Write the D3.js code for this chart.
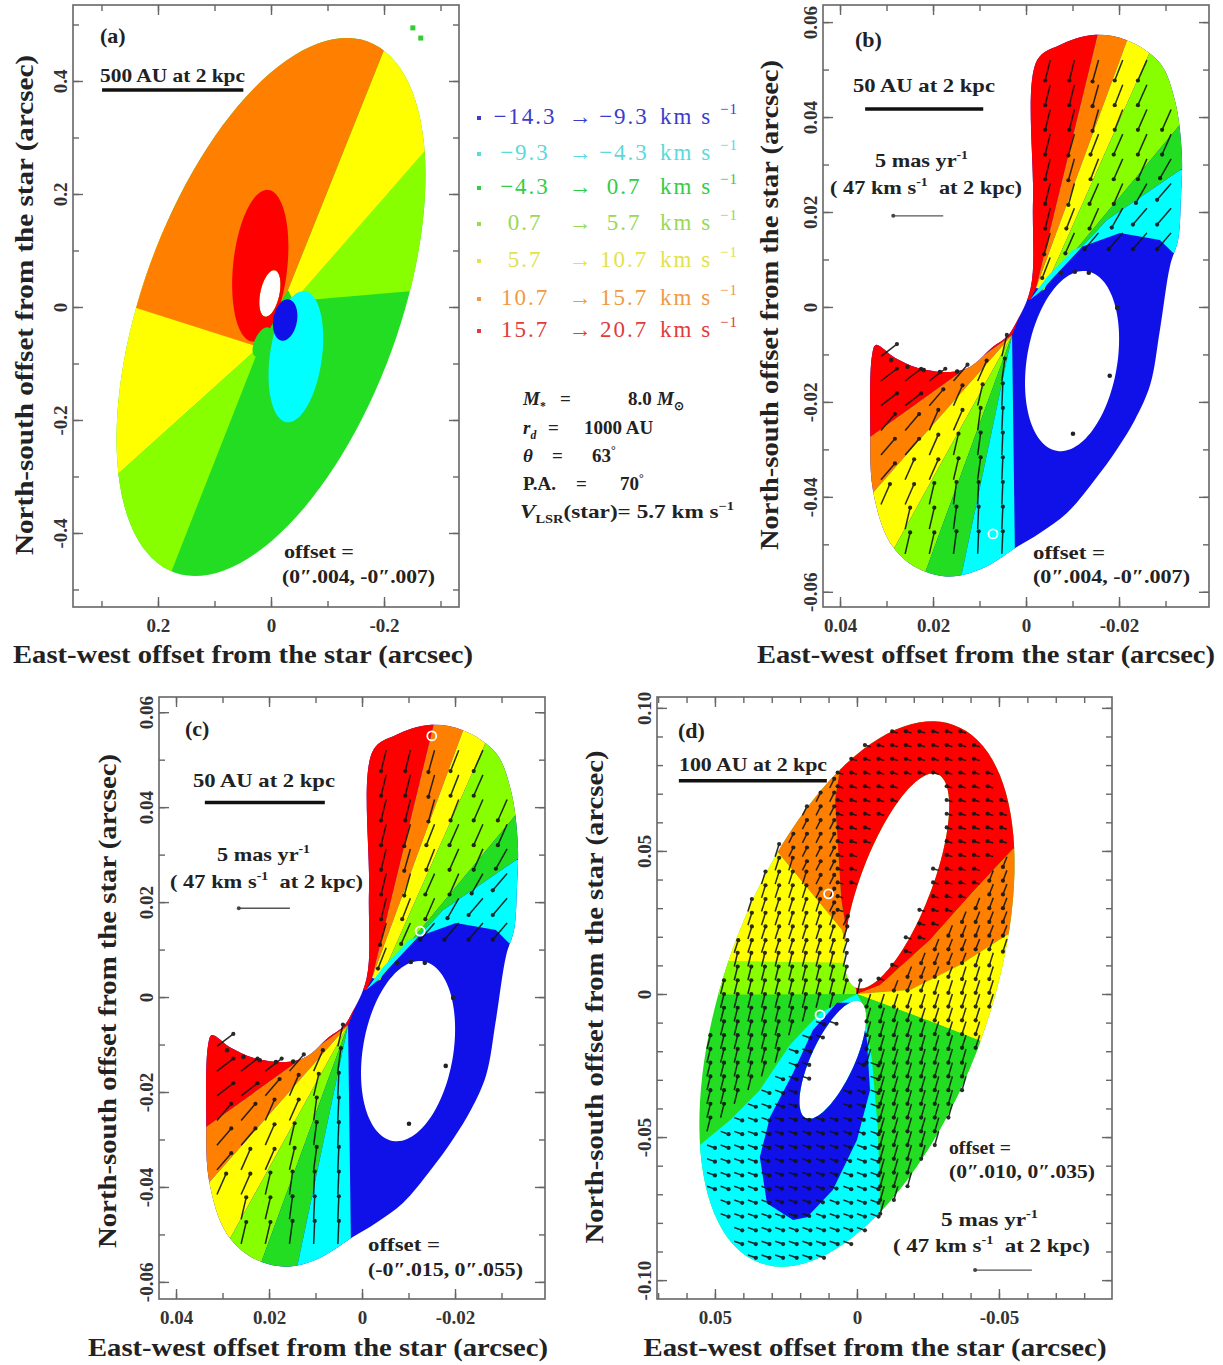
<!DOCTYPE html>
<html>
<head>
<meta charset="utf-8">
<script src="https://cdn.jsdelivr.net/npm/d3@7"></script>
<style>
  body { margin: 0; background: #fff; }
  svg text { font-family: "Liberation Serif", "Times New Roman", serif; white-space: pre; }
</style>
</head>
<body>
<svg id="fig" width="1223" height="1365"></svg>
<script>
// ---- velocity bins (km/s) and their colours ----
const velBins = [[-14.3, -9.3], [-9.3, -4.3], [-4.3, 0.7], [0.7, 5.7], [5.7, 10.7], [10.7, 15.7], [15.7, 20.7]];
const binColors = ["#1010e8", "#00ffff", "#22dd22", "#88ff00", "#ffff00", "#ff8000", "#ff0000"];
const binTextColors = ["#3b3bcc", "#5adada", "#33cc44", "#9ad855", "#e2e24a", "#f09a44", "#e03c3c"];

// ---- model parameters shown in the middle ----
const modelParams = { mass: 8.0, rd: 1000, theta: 63, pa: 70, vlsr: 5.7 };

// ---- panel (a): full disk ----
const xDomainA = [0.3504, -0.3327], yDomainA = [-0.531, 0.5345];
const xTicksA = [0.3, 0.2, 0.1, 0, -0.1, -0.2, -0.3];
const xLabelsA = [0.2, 0, -0.2];
const yTicksA = [-0.5, -0.4, -0.3, -0.2, -0.1, 0, 0.1, 0.2, 0.3, 0.4, 0.5];
const yLabelsA = [-0.4, -0.2, 0, 0.2, 0.4];
const diskA = [0, 0, 0.5, 0.227, -20];            // cx, cy, semi-major, semi-minor, PA (deg)
const holesA = [[0.002, 0.024, 0.042, 0.017, -12]];
const regionsA = [
  { bin: 4, poly: [[0.02, -0.07], [0.52, -0.52], [0.7, 0.0], [0.3, 0.3]] },
  { bin: 3, poly: [[0.02, -0.07], [0.33, -0.86], [0.52, -0.52]] },
  { bin: 3, poly: [[-0.04, 0.01], [-0.535, 0.577], [-0.556, 0.055]] },
  { bin: 4, poly: [[-0.03, 0.03], [-0.384, 0.915], [-0.535, 0.577], [-0.04, 0.01]] },
  { bin: 5, poly: [[0.03, -0.068], [0.244, 0.0], [0.6, 0.12], [0.6, 0.9], [-0.384, 0.915], [-0.03, 0.03]] },
  { bin: 6, ell: [0.019, 0.073, 0.135, 0.048, -6] },
  { bin: 1, ell: [-0.044, -0.088, 0.117, 0.046, -8] },
  { bin: 0, ell: [-0.025, -0.023, 0.037, 0.021, -10] },
  { bin: 2, ell: [0.016, -0.062, 0.028, 0.013, -25] }
];
const marksA = [[-0.251, 0.494], [-0.265, 0.476]];

// ---- panels (b) and (c): same model, different offsets ----
const xDomainB = [0.04366, -0.03935], yDomainB = [-0.0632, 0.0636];
const xDomainC = [0.04366, -0.03935], yDomainC = [-0.0636, 0.0632];
const xTicksBC = [0.04, 0.03, 0.02, 0.01, 0, -0.01, -0.02, -0.03];
const xLabelsBC = [0.04, 0.02, 0, -0.02];
const yTicksBC = [-0.06, -0.05, -0.04, -0.03, -0.02, -0.01, 0, 0.01, 0.02, 0.03, 0.04, 0.05, 0.06];
const yLabelsBC = [-0.06, -0.04, -0.02, 0, 0.02, 0.04, 0.06];
const outlineBC = [[-0.001, 0.004], [-0.0015, 0.0225], [-0.0024, 0.052], [-0.0073, 0.0552], [-0.0144, 0.0573],
  [-0.0217, 0.0562], [-0.0288, 0.0514], [-0.032, 0.0436], [-0.0335, 0.0324], [-0.0333, 0.0225], [-0.0327, 0.0141],
  [-0.031, 0.0088], [-0.0288, -0.0048], [-0.0267, -0.0164], [-0.0234, -0.0238], [-0.0196, -0.0299], [-0.0148, -0.0364],
  [-0.0088, -0.0434], [-0.003, -0.0476], [0.0019, -0.0505], [0.0092, -0.055], [0.0163, -0.0568], [0.0234, -0.055],
  [0.0292, -0.0497], [0.0329, -0.0387], [0.0335, -0.0253], [0.0331, -0.0101], [0.0323, -0.008], [0.0282, -0.0107],
  [0.0234, -0.0128], [0.0163, -0.0137], [0.012, -0.0126], [0.0071, -0.0084], [0.0041, -0.0063], [0.0024, -0.0038]];
const holesBC = [[-0.0099, -0.0114, 0.0192, 0.0097, -10]];
// bin, polygon, model proper motion (mas/yr: east, north)
const regionsBC = [
  { bin: 6, poly: [[0.003, -0.0059], [0.0458, -0.036], [0.0486, 0.0015], [-0.0009, 0.0036]], v: [-1.6, 1.2] },
  { bin: 5, poly: [[0.003, -0.0059], [0.0449, -0.0524], [0.0458, -0.036]], v: [-1.4, 1.6] },
  { bin: 4, poly: [[0.003, -0.0059], [0.0376, -0.0672], [0.0449, -0.0524]], v: [-0.9, 2.0] },
  { bin: 3, poly: [[0.003, -0.0059], [0.0269, -0.0699], [0.0376, -0.0672]], v: [-0.5, 2.1] },
  { bin: 2, poly: [[0.003, -0.0059], [0.0168, -0.0701], [0.0269, -0.0699]], v: [-0.3, 2.2] },
  { bin: 1, poly: [[0.003, -0.0059], [0.0022, -0.0659], [0.0168, -0.0701]], v: [-0.1, 2.2] },
  { bin: 6, poly: [[-0.0009, 0.0015], [-0.00215, 0.004], [-0.0172, 0.0646], [0.0056, 0.0646], [0.0056, 0.0015]], v: [0.5, -2.0] },
  { bin: 5, poly: [[-0.00215, 0.004], [-0.0172, 0.0646], [-0.0249, 0.0646]], v: [0.6, -2.1] },
  { bin: 4, poly: [[-0.00215, 0.004], [-0.0249, 0.0646], [-0.0316, 0.0646], [-0.0039, 0.0036]], v: [0.8, -2.0] },
  { bin: 3, poly: [[-0.0039, 0.0036], [-0.0316, 0.0646], [-0.0482, 0.0646], [-0.0482, 0.0562], [-0.0034, 0.0034]], v: [0.9, -2.0] },
  { bin: 2, poly: [[-0.0034, 0.0034], [-0.0482, 0.0562], [-0.0482, 0.0394], [-0.0331, 0.0288], [-0.0174, 0.0183], [-0.003, 0.0032]], v: [1.1, -1.9] },
  { bin: 1, poly: [[-0.003, 0.0032], [-0.0174, 0.0183], [-0.0331, 0.0288], [-0.0482, 0.0331], [-0.0482, 0.0095], [-0.0374, 0.0095],
      [-0.0316, 0.0114], [-0.0288, 0.0141], [-0.0202, 0.0156], [-0.0101, 0.012], [-0.0045, 0.0063], [-0.0009, 0.0015]], v: [1.4, -1.6] }
];
// observed spots along the cavity edges
const dotsBC = [[0.029, -0.0112], [0.0255, -0.0126], [0.022, -0.0133], [0.0185, -0.0137], [0.0148, -0.0136],
  [-0.0075, 0.0072], [-0.0105, 0.0074], [-0.0135, 0.0072], [-0.0196, -0.0002], [-0.018, -0.0145], [-0.0101, -0.0267]];
const spotsB = [[0.0071, -0.0478]];
const spotsC = [[-0.015, 0.055], [-0.0125, 0.0139]];

// ---- panel (d): ring ----
const xDomainD = [0.0704, -0.0898], yDomainD = [-0.1066, 0.1038];
const xTicksD = [0.07, 0.06, 0.05, 0.04, 0.03, 0.02, 0.01, 0, -0.01, -0.02, -0.03, -0.04, -0.05, -0.06, -0.07, -0.08];
const xLabelsD = [0.05, 0, -0.05];
const yTicksD = [-0.1, -0.09, -0.08, -0.07, -0.06, -0.05, -0.04, -0.03, -0.02, -0.01, 0, 0.01, 0.02, 0.03, 0.04, 0.05, 0.06, 0.07, 0.08, 0.09, 0.1];
const yLabelsD = [-0.1, -0.05, 0, 0.05, 0.1];
const diskD = [0, 0, 0.1, 0.0465, -20];
const holesD = [[-0.0140, 0.0395, 0.040, 0.0125, -21], [0.0085, -0.023, 0.0225, 0.0076, -25]];
const regionsD = [
  { bin: 3, poly: [[0, 0], [0.0025, 0.0108], [0.0729, 0.0119], [0.0729, -0.0003]], v: [-0.3, 1.2] },
  { bin: 4, poly: [[0, 0], [0.0025, 0.0108], [0.0729, 0.0119], [0.0729, 0.0678], [0.0342, 0.0573], [0.0052, 0.0224]], v: [-0.35, 1.1] },
  { bin: 5, poly: [[0, 0], [0.0052, 0.0224], [0.0342, 0.0573], [0.0729, 0.0678], [0.0729, 0.11], [0.006, 0.11], [0.0059, 0.079],
      [0.0077, 0.0678], [0.0055, 0.0329]], v: [-0.4, 0.8] },
  { bin: 6, poly: [[0, 0], [0.0055, 0.0329], [0.0077, 0.0678], [0.0059, 0.079], [0.006, 0.11], [-0.1, 0.11], [-0.1, 0.075],
      [-0.0856, 0.0748], [-0.0546, 0.0503], [-0.0415, 0.0364], [-0.0257, 0.0189], [-0.0081, 0.0031]], v: [0.5, 0.15] },
  { bin: 5, poly: [[0, 0], [-0.0081, 0.0031], [-0.0257, 0.0189], [-0.0415, 0.0364], [-0.0546, 0.0503], [-0.0856, 0.0748],
      [-0.0856, 0.0329], [-0.0528, 0.0206], [-0.0363, 0.0101], [-0.0187, 0.0014]], v: [0.35, -0.9] },
  { bin: 4, poly: [[0, 0], [-0.0187, 0.0014], [-0.0363, 0.0101], [-0.0528, 0.0206], [-0.0856, 0.0329], [-0.0856, -0.0336],
      [-0.0426, -0.0161], [-0.0292, -0.0108], [-0.0151, -0.0056]], v: [0.35, -1.1] },
  { bin: 2, poly: [[0, 0], [-0.0151, -0.0056], [-0.0292, -0.0108], [-0.0426, -0.0161], [-0.0856, -0.0336], [-0.0856, -0.11],
      [-0.0099, -0.11], [-0.0081, -0.072], [-0.0074, -0.0476], [-0.0053, -0.0231], [-0.0021, -0.0038]], v: [0.35, -1.2] },
  { bin: 1, poly: [[0, 0], [-0.0021, -0.0038], [-0.0053, -0.0231], [-0.0074, -0.0476], [-0.0081, -0.072], [-0.0099, -0.11],
      [0.08, -0.11], [0.0764, -0.058], [0.0553, -0.0528], [0.0447, -0.0441], [0.0342, -0.0336], [0.0236, -0.0178], [0.013, -0.0066]], v: [-0.7, -0.25] },
  { bin: 0, poly: [[-0.0011, -0.0031], [-0.0035, -0.0161], [-0.0046, -0.0336], [0, -0.051], [0.0085, -0.0685], [0.0176, -0.078],
      [0.0225, -0.079], [0.0317, -0.0731], [0.0342, -0.057], [0.0306, -0.043], [0.0225, -0.0276], [0.0155, -0.0126], [0.007, -0.0031]], v: [-0.6, -0.2] }
];
const spotsD = [[0.010, 0.035], [0.013, -0.0073]];

// ---- helpers ----
const svg = d3.select("#fig");
const serif = '"Liberation Serif", "Times New Roman", serif';

function ellipsePts([cx, cy, a, b, pa], n = 120) {
  const t = pa * Math.PI / 180;
  const u = [Math.sin(t), Math.cos(t)], v = [Math.cos(t), -Math.sin(t)];
  return d3.range(n).map(i => {
    const s = 2 * Math.PI * i / n;
    return [cx + a * Math.cos(s) * u[0] + b * Math.sin(s) * v[0],
            cy + a * Math.cos(s) * u[1] + b * Math.sin(s) * v[1]];
  });
}

// text with sub/superscripts and italic pieces
function rich(parent, x, y, parts, opt) {
  const t = parent.append("text").attr("x", x).attr("y", y)
    .attr("font-size", opt.size).attr("font-weight", opt.weight || "bold")
    .attr("fill", opt.fill || "#222");
  if (opt.anchor) t.attr("text-anchor", opt.anchor);
  if (opt.len) t.attr("textLength", opt.len).attr("lengthAdjust", "spacingAndGlyphs");
  if (opt.spacing) t.attr("letter-spacing", opt.spacing);
  let shift = 0;
  parts.forEach(p => {
    const q = typeof p === "string" ? { s: p } : p;
    const target = q.sup ? -0.42 : q.sub ? 0.28 : 0;
    const ts = t.append("tspan").text(q.s);
    if (q.x != null) ts.attr("x", q.x);
    if (target !== shift) ts.attr("dy", ((target - shift) * opt.size).toFixed(1));
    if (q.sup || q.sub) ts.attr("font-size", opt.size * 0.62);
    if (q.it) ts.attr("font-style", "italic");
    shift = target;
  });
  return t;
}

function drawPanel(p) {
  const [l, t, r, b] = p.frame;
  const W = r - l, H = b - t;
  const g = svg.append("g").attr("transform", `translate(${l},${t})`);
  const x = d3.scaleLinear().domain(p.xDomain).range([0, W]);
  const y = d3.scaleLinear().domain(p.yDomain).range([H, 0]);
  const px = d => [x(d[0]), y(d[1])];
  const closed = d3.line().curve(d3.curveLinearClosed);
  const smooth = d3.line().curve(d3.curveCatmullRomClosed.alpha(0.5));

  const outerPts = p.outer.ellipse ? ellipsePts(p.outer.ellipse) : p.outer.poly;
  const holePts = p.holes.map(h => ellipsePts(h));
  const domainD = (p.outer.ellipse ? closed : smooth)(outerPts.map(px)) +
    holePts.map(h => closed(h.map(px))).join("");

  const clipId = "clip-" + p.name;
  g.append("clipPath").attr("id", clipId)
    .append("path").attr("d", domainD).attr("clip-rule", "evenodd");

  // velocity field
  g.append("path").attr("d", domainD).attr("fill", binColors[p.base]).attr("fill-rule", "evenodd");
  const field = g.append("g").attr("clip-path", `url(#${clipId})`);
  const regionPts = p.regions.map(rg => rg.ell ? ellipsePts(rg.ell) : rg.poly);
  field.selectAll("path.region").data(p.regions).join("path")
    .attr("class", "region")
    .attr("d", (rg, i) => closed(regionPts[i].map(px)))
    .attr("fill", rg => binColors[rg.bin]);

  // model proper-motion vectors on a regular sampling grid
  if (p.arrowStep) {
    const xs = d3.extent(p.xDomain), ys = d3.extent(p.yDomain), s = p.arrowStep;
    const grid = [];
    d3.range(Math.ceil(ys[0] / s) * s, ys[1], s).forEach(gy =>
      d3.range(Math.ceil(xs[0] / s) * s, xs[1], s).forEach(gx => grid.push([gx, gy])));
    const vecs = [];
    grid.forEach(pt => {
      if (!d3.polygonContains(outerPts, pt)) return;
      if (holePts.some(h => d3.polygonContains(h, pt))) return;
      let v = p.baseV;
      for (let i = p.regions.length - 1; i >= 0; i--) {
        if (d3.polygonContains(regionPts[i], pt)) { v = p.regions[i].v; break; }
      }
      if (v) vecs.push({ p: pt, h: [pt[0] + v[0] * p.arrowScale, pt[1] + v[1] * p.arrowScale] });
    });
    const ag = g.append("g").attr("stroke", "#141414").attr("stroke-width", 1.5).attr("opacity", 0.9);
    ag.selectAll("line").data(vecs).join("line")
      .attr("x1", d => x(d.p[0])).attr("y1", d => y(d.p[1]))
      .attr("x2", d => x(d.h[0])).attr("y2", d => y(d.h[1]));
    ag.selectAll("circle").data(vecs).join("circle")
      .attr("cx", d => x(d.h[0])).attr("cy", d => y(d.h[1])).attr("r", 2.1).attr("fill", "#141414").attr("stroke", "none");
  }

  // spots along cavity edges, marker circles and marks
  (p.dots || []).forEach(dt => g.append("circle").attr("cx", x(dt[0])).attr("cy", y(dt[1])).attr("r", 2.3)
    .attr("fill", "#222"));
  (p.spots || []).forEach(sp => g.append("circle").attr("cx", x(sp[0])).attr("cy", y(sp[1])).attr("r", 4.5)
    .attr("fill", "none").attr("stroke", "#fff").attr("stroke-width", 1.8));
  (p.marks || []).forEach(mk => g.append("rect").attr("x", x(mk[0]) - 2.5).attr("y", y(mk[1]) - 2.5)
    .attr("width", 5).attr("height", 5).attr("fill", "#33cc33"));

  // frame + ticks
  g.append("rect").attr("width", W).attr("height", H).attr("fill", "none").attr("stroke", "#666").attr("stroke-width", 1.6);
  const fmt = d => d === 0 ? "0" : d3.format(p.fmt)(d).replace("\u2212", "-");
  const styleAxis = sel => {
    sel.select(".domain").remove();
    sel.selectAll(".tick line").attr("stroke", "#666").attr("stroke-width", 1.4);
    sel.attr("font-family", serif).attr("font-size", 19).attr("font-weight", "bold");
    sel.selectAll("text").attr("fill", "#333");
  };
  const axes = [
    [d3.axisBottom(x), `translate(0,${H})`, p.xTicks, p.xLabels, true, false],
    [d3.axisTop(x), null, p.xTicks, p.xLabels, false, false],
    [d3.axisLeft(y), null, p.yTicks, p.yLabels, true, true],
    [d3.axisRight(y), `translate(${W},0)`, p.yTicks, p.yLabels, false, false]
  ];
  axes.forEach(([ax, tr, minor, major, labelled, vertical]) => {
    styleAxis(g.append("g").attr("transform", tr).call(ax.tickValues(minor).tickSize(-6).tickFormat("")));
    const M = g.append("g").attr("transform", tr)
      .call(ax.tickValues(major).tickSize(-10).tickPadding(12).tickFormat(labelled ? fmt : ""));
    styleAxis(M);
    if (vertical) {
      M.selectAll(".tick text").attr("x", null).attr("dy", null).attr("text-anchor", "middle")
        .attr("transform", "translate(-6,0) rotate(-90)");
    }
  });

  // axis titles
  rich(svg, p.xTitle[0], p.xTitle[1], ["East-west offset from the star (arcsec)"],
    { size: 25, anchor: "middle", len: p.xTitle[2] });
  svg.append("text").attr("transform", `translate(${p.yTitle[0]},${p.yTitle[1]}) rotate(-90)`)
    .attr("text-anchor", "middle").attr("font-size", 25).attr("font-weight", "bold").attr("fill", "#222")
    .attr("textLength", p.yTitle[2]).attr("lengthAdjust", "spacingAndGlyphs")
    .text("North-south offset from the star (arcsec)");

  // scale bar
  const sb = p.scaleBar;
  g.append("line").attr("x1", x(sb[0])).attr("x2", x(sb[1])).attr("y1", y(sb[2])).attr("y2", y(sb[2]))
    .attr("stroke", "#111").attr("stroke-width", 3.5);

  // reference proper-motion arrow (5 mas/yr to the east)
  if (p.refArrow) {
    const a0 = p.refArrow, a1 = [a0[0] + 5 * p.arrowScale, a0[1]];
    g.append("line").attr("x1", x(a0[0])).attr("y1", y(a0[1])).attr("x2", x(a1[0])).attr("y2", y(a1[1]))
      .attr("stroke", "#555").attr("stroke-width", 1.3);
    g.append("circle").attr("cx", x(a1[0])).attr("cy", y(a1[1])).attr("r", 2).attr("fill", "#444");
  }

  // annotations
  p.texts.forEach(tx => rich(svg, tx.x, tx.y, tx.parts, { size: tx.size || 19, len: tx.len }));
}

const masParts = ["5 mas yr", { s: "-1", sup: true }];
const kmsParts = ["( 47 km s", { s: "-1", sup: true }, "  at 2 kpc)"];

const panels = [
  { name: "a", frame: [73, 5, 459, 607], xDomain: xDomainA, yDomain: yDomainA, xTicks: xTicksA, xLabels: xLabelsA,
    yTicks: yTicksA, yLabels: yLabelsA, fmt: ".1f", outer: { ellipse: diskA }, holes: holesA, base: 2, regions: regionsA,
    marks: marksA, scaleBar: [0.299, 0.049, 0.384],
    xTitle: [243, 663, 460], yTitle: [33, 305, 500],
    texts: [
      { x: 100, y: 43, parts: ["(a)"], size: 22 },
      { x: 100, y: 82, parts: ["500 AU at 2 kpc"], len: 145 },
      { x: 284, y: 558, parts: ["offset ="], len: 70 },
      { x: 282, y: 583, parts: ["(0\u2033.004, -0\u2033.007)"], len: 153 }
    ] },
  { name: "b", frame: [823, 5, 1209, 607], xDomain: xDomainB, yDomain: yDomainB, xTicks: xTicksBC, xLabels: xLabelsBC,
    yTicks: yTicksBC, yLabels: yLabelsBC, fmt: ".2f", outer: { poly: outlineBC }, holes: holesBC, base: 0, regions: regionsBC,
    dots: dotsBC, spots: spotsB, arrowStep: 0.0052, arrowScale: 0.00215, refArrow: [0.0178, 0.0192],
    scaleBar: [0.0346, 0.0092, 0.0417],
    xTitle: [986, 663, 458], yTitle: [778, 305, 490],
    texts: [
      { x: 855, y: 47, parts: ["(b)"], size: 22 },
      { x: 853, y: 92, parts: ["50 AU at 2 kpc"], len: 142 },
      { x: 875, y: 167, parts: masParts, len: 93 },
      { x: 830, y: 194, parts: kmsParts, len: 192 },
      { x: 1033, y: 559, parts: ["offset ="], len: 72 },
      { x: 1033, y: 583, parts: ["(0\u2033.004, -0\u2033.007)"], len: 157 }
    ] },
  { name: "c", frame: [159, 697, 545, 1299], xDomain: xDomainC, yDomain: yDomainC, xTicks: xTicksBC, xLabels: xLabelsBC,
    yTicks: yTicksBC, yLabels: yLabelsBC, fmt: ".2f", outer: { poly: outlineBC }, holes: holesBC, base: 0, regions: regionsBC,
    dots: dotsBC, spots: spotsC, arrowStep: 0.0052, arrowScale: 0.0022, refArrow: [0.0155, 0.0187],
    scaleBar: [0.0338, 0.008, 0.041],
    xTitle: [318, 1356, 460], yTitle: [116, 1001, 494],
    texts: [
      { x: 185, y: 736, parts: ["(c)"], size: 22 },
      { x: 193, y: 787, parts: ["50 AU at 2 kpc"], len: 142 },
      { x: 217, y: 861, parts: masParts, len: 93 },
      { x: 170, y: 888, parts: kmsParts, len: 193 },
      { x: 368, y: 1251, parts: ["offset ="], len: 72 },
      { x: 368, y: 1276, parts: ["(-0\u2033.015, 0\u2033.055)"], len: 155 }
    ] },
  { name: "d", frame: [657, 697, 1112, 1299], xDomain: xDomainD, yDomain: yDomainD, xTicks: xTicksD, xLabels: xLabelsD,
    yTicks: yTicksD, yLabels: yLabelsD, fmt: ".2f", outer: { ellipse: diskD }, holes: holesD, base: 2, regions: regionsD,
    baseV: [-0.3, 1.2], spots: spotsD, arrowStep: 0.0048, arrowScale: 0.0040, refArrow: [-0.0616, -0.0965],
    scaleBar: [0.0627, 0.0106, 0.0745],
    xTitle: [875, 1356, 463], yTitle: [603, 997, 493],
    texts: [
      { x: 678, y: 738, parts: ["(d)"], size: 22 },
      { x: 679, y: 771, parts: ["100 AU at 2 kpc"], len: 148 },
      { x: 949, y: 1154, parts: ["offset ="], len: 62 },
      { x: 949, y: 1178, parts: ["(0\u2033.010, 0\u2033.035)"], len: 146 },
      { x: 941, y: 1226, parts: masParts, len: 97 },
      { x: 893, y: 1252, parts: kmsParts, len: 197 }
    ] }
];

panels.forEach(drawPanel);

// ---- legend of velocity bins ----
const legendY = [124, 160, 194, 230, 267, 305, 337];
const fmtV = v => (v < 0 ? "\u2212" : "") + Math.abs(v).toFixed(1);
const lg = svg.append("g").attr("font-size", 23).attr("letter-spacing", 2);
velBins.forEach((bn, i) => {
  const yy = legendY[i], c = binTextColors[i];
  lg.append("rect").attr("x", 477).attr("y", yy - 8).attr("width", 4).attr("height", 4).attr("fill", c);
  lg.append("text").attr("x", 525).attr("y", yy).attr("text-anchor", "middle").attr("fill", c).text(fmtV(bn[0]));
  lg.append("text").attr("x", 581).attr("y", yy).attr("text-anchor", "middle").attr("fill", c).text("\u2192");
  lg.append("text").attr("x", 624).attr("y", yy).attr("text-anchor", "middle").attr("fill", c).text(fmtV(bn[1]));
  lg.append("text").attr("x", 660).attr("y", yy).attr("fill", c).text("km s");
  lg.append("text").attr("x", 720).attr("y", yy - 10).attr("font-size", 15).attr("letter-spacing", 1).attr("fill", c).text("\u22121");
});

// ---- model parameters ----
const pg = svg.append("g");
rich(pg, 523, 405, [{ s: "M", it: true }, { s: "*", sub: true }, { s: "=", x: 560 }, { s: modelParams.mass.toFixed(1), x: 628 },
  { s: "M", it: true, x: 657 }, { s: "\u2299", sub: true }], { size: 19 });
rich(pg, 523, 434, [{ s: "r", it: true }, { s: "d", sub: true, it: true }, { s: "=", x: 548 },
  { s: modelParams.rd + " AU", x: 584 }], { size: 19 });
rich(pg, 523, 462, [{ s: "\u03b8", it: true }, { s: "=", x: 552 }, { s: String(modelParams.theta), x: 592 },
  { s: "\u00b0", sup: true }], { size: 19 });
rich(pg, 523, 490, ["P.A.", { s: "=", x: 576 }, { s: String(modelParams.pa), x: 620 }, { s: "\u00b0", sup: true }], { size: 19 });
rich(pg, 520, 518, [{ s: "V", it: true }, { s: "LSR", sub: true }, "(star)= " + modelParams.vlsr + " km s",
  { s: "\u22121", sup: true }], { size: 19, len: 214 });
</script>
</body>
</html>
